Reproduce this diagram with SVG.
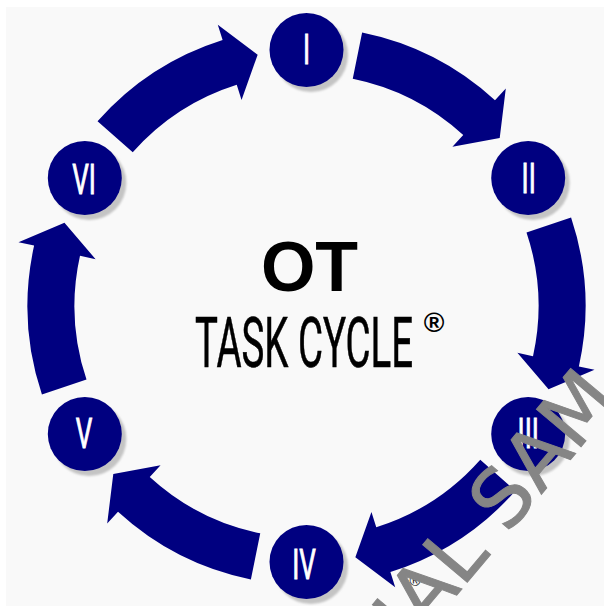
<svg xmlns="http://www.w3.org/2000/svg" xmlns:xlink="http://www.w3.org/1999/xlink" width="604" height="606" viewBox="0 0 604 606">
<defs>
<style>
.arrow{fill:#000080}
.node{fill:#000080}
.shadow{fill:#c4c4c4;filter:url(#blur)}
.num{font-family:Roboto,"Liberation Sans",sans-serif;font-size:42px;fill:#fff;stroke:#fff;stroke-width:0.9;text-anchor:middle}
</style>
<filter id="blur" x="-20%" y="-20%" width="140%" height="140%"><feGaussianBlur stdDeviation="1.2"/></filter>
<path id="arc" d="M273.40,55.62 A279,279 0 0,1 205.70,188.49 L217.50,199.30 L167.95,193.21 L159.25,145.93 L171.05,156.74 A232,232 0 0,0 227.34,46.25 Z"/>
</defs>
<rect x="0" y="0" width="604" height="606" fill="#ffffff"/>
<rect x="6" y="7" width="598" height="599" fill="#f9f9f9"/>
<g id="connectors" class="arrow">
<use xlink:href="#arc" transform="translate(306.5,306) rotate(-90)"/>
<use xlink:href="#arc" transform="translate(306.5,306) rotate(-30)"/>
<use xlink:href="#arc" transform="translate(306.5,306) rotate(30)"/>
<use xlink:href="#arc" transform="translate(306.5,306) rotate(90)"/>
<use xlink:href="#arc" transform="translate(306.5,306) rotate(150)"/>
<use xlink:href="#arc" transform="translate(306.5,306) rotate(210)"/>
</g>
<g id="node-I"><circle class="shadow" cx="311" cy="55" r="37"/><circle class="node" cx="306.5" cy="50" r="37"/><text class="num" transform="translate(306.5,64) scale(0.62,1)">I</text></g>
<g id="node-II"><circle class="shadow" cx="532.7" cy="183" r="37"/><circle class="node" cx="528.2" cy="178" r="37"/><text class="num" transform="translate(528.7,193) scale(0.62,1)">II</text></g>
<g id="node-III"><circle class="shadow" cx="532.7" cy="439" r="37"/><circle class="node" cx="528.2" cy="434" r="37"/><text class="num" transform="translate(528.2,448) scale(0.62,1)">III</text></g>
<g id="node-IV"><circle class="shadow" cx="311" cy="567" r="37"/><circle class="node" cx="306.5" cy="562" r="37"/><text class="num" transform="translate(304,579) scale(0.62,1)">IV</text></g>
<g id="node-V"><circle class="shadow" cx="89.3" cy="439" r="37"/><circle class="node" cx="84.8" cy="434" r="37"/><text class="num" transform="translate(84,448) scale(0.62,1)">V</text></g>
<g id="node-VI"><circle class="shadow" cx="89.3" cy="183" r="37"/><circle class="node" cx="84.8" cy="178" r="37"/><text class="num" transform="translate(84,194) scale(0.62,1)">VI</text></g>
<g id="title">
<text x="309.5" y="291" font-family="'Liberation Sans',Arial,sans-serif" font-weight="bold" font-size="70" text-anchor="middle" fill="#000">OT</text>
<text x="195" y="367" font-family="Roboto,'Liberation Sans',sans-serif" font-size="70" textLength="218" lengthAdjust="spacingAndGlyphs" fill="#000" stroke="#000" stroke-width="0.6">TASK CYCLE</text>
<text x="434" y="332" font-family="'Liberation Sans',Arial,sans-serif" font-weight="bold" font-size="28" text-anchor="middle" fill="#000">®</text>
</g>
<text x="415" y="586" font-family="'Liberation Sans',Arial,sans-serif" font-size="15" text-anchor="middle" fill="#111">®</text>
<text transform="translate(466,584) rotate(-50)" x="-84" y="0" font-family="'DejaVu Sans','Open Sans',sans-serif" font-size="80" fill="#858585" stroke="#858585" stroke-width="1">IAL SAM</text>
</svg>
